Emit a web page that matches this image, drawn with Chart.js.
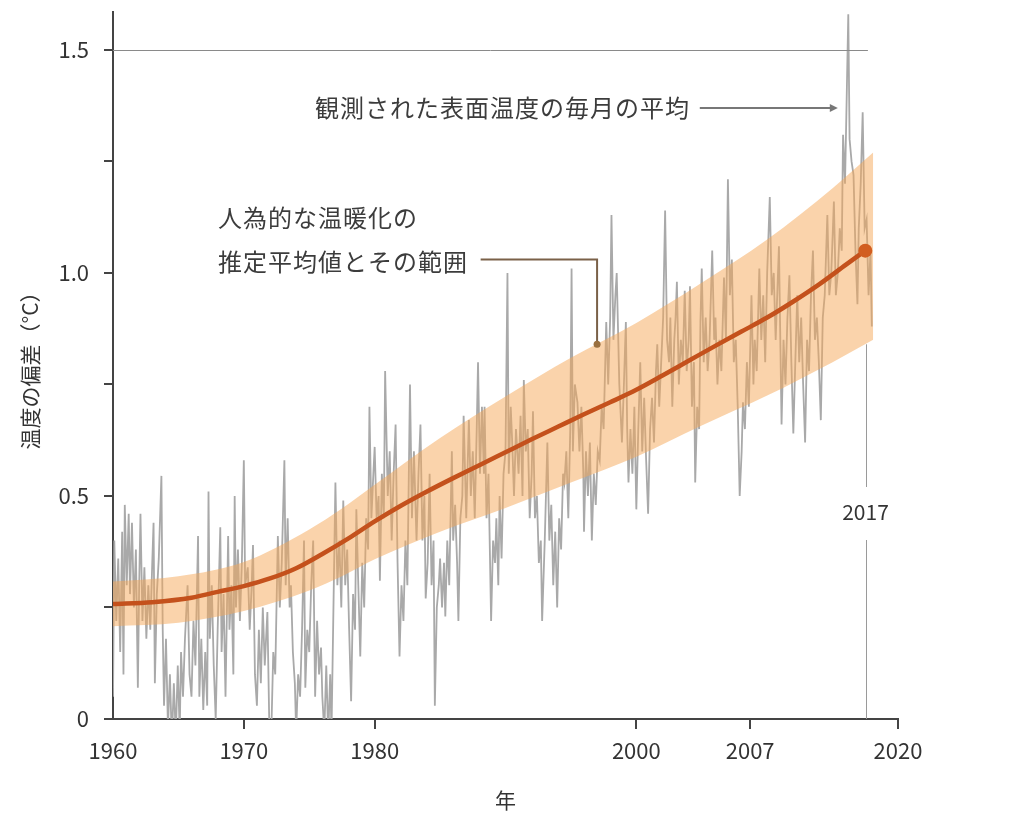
<!DOCTYPE html>
<html><head><meta charset="utf-8">
<script src="https://cdn.jsdelivr.net/npm/chart.js@4.4.1/dist/chart.umd.min.js"></script>
<style>html,body{margin:0;padding:0;background:#fff;}#wrap{width:1011px;height:814px;position:relative;}</style>
</head><body><div id="wrap"><canvas id="c"></canvas></div>
<script>
const xTickValues = [1960, 1970, 1980, 2000, 2008.7, 2020];
const xTickLabels = ['1960', '1970', '1980', '2000', '2007', '2020'];
const yTickValues = [0, 0.25, 0.5, 0.75, 1.0, 1.25, 1.5];
const yTickLabels = ['0', '', '0.5', '', '1.0', '', '1.5'];

const meanYears  = [1960,1963,1966,1968,1970,1972,1974,1976,1978,1980,1982,1984,1986,1988,1990,1992,1994,1996,1998,2000,2002,2004,2006,2008,2010,2012,2014,2016,2017.5];
const meanValues = [0.258,0.262,0.272,0.285,0.298,0.315,0.338,0.37,0.405,0.443,0.478,0.51,0.54,0.569,0.598,0.627,0.655,0.683,0.71,0.738,0.77,0.803,0.836,0.868,0.90,0.936,0.975,1.018,1.05];

const bandYears = [1960,1965,1970,1975,1977.5,1980,1985,1990,1995,2000,2005,2010,2015,2018.1];
const bandUpper = [0.308,0.320,0.352,0.425,0.472,0.525,0.630,0.723,0.81,0.888,0.978,1.075,1.19,1.27];
const bandLower = [0.208,0.216,0.242,0.288,0.320,0.358,0.420,0.473,0.53,0.588,0.658,0.725,0.80,0.85];

// observed monthly surface temperature: [year, anomaly]
const observed = [
[1960.0,0.05],[1960.1,0.40],[1960.25,0.22],[1960.4,0.36],[1960.55,0.15],[1960.7,0.42],[1960.8,0.10],[1960.9,0.48],
[1961.05,0.30],[1961.2,0.46],[1961.3,0.28],[1961.45,0.44],[1961.6,0.25],[1961.75,0.38],[1961.9,0.07],
[1962.0,0.30],[1962.1,0.46],[1962.25,0.22],[1962.4,0.34],[1962.55,0.18],[1962.7,0.30],[1962.85,0.20],
[1963.0,0.35],[1963.1,0.44],[1963.2,0.08],[1963.35,0.28],[1963.5,0.36],[1963.7,0.545],[1963.8,0.20],[1963.9,0.03],
[1964.05,0.18],[1964.2,-0.02],[1964.35,0.10],[1964.5,-0.05],[1964.65,0.08],[1964.8,-0.04],[1964.95,0.12],
[1965.1,-0.03],[1965.2,0.15],[1965.35,0.05],[1965.5,0.18],[1965.7,0.30],[1965.85,0.10],
[1966.0,0.05],[1966.15,0.22],[1966.3,0.12],[1966.5,0.41],[1966.6,0.05],[1966.75,0.18],[1966.9,0.02],
[1967.05,0.15],[1967.2,0.03],[1967.3,0.51],[1967.4,0.18],[1967.55,0.30],[1967.7,0.12],[1967.85,0.0],
[1968.0,0.20],[1968.2,0.43],[1968.3,0.15],[1968.45,0.28],[1968.6,0.05],[1968.8,0.41],[1968.9,0.20],
[1969.05,0.30],[1969.2,0.10],[1969.3,0.50],[1969.4,0.25],[1969.55,0.38],[1969.7,0.22],[1969.85,0.35],
[1970.0,0.58],[1970.1,0.30],[1970.3,0.34],[1970.45,0.20],[1970.6,0.30],[1970.7,0.39],[1970.85,0.10],
[1971.0,0.03],[1971.15,0.20],[1971.3,0.08],[1971.45,0.25],[1971.6,0.12],[1971.8,0.24],[1971.95,-0.02],
[1972.1,-0.03],[1972.25,0.15],[1972.4,0.10],[1972.6,0.41],[1972.75,0.25],[1972.9,0.35],
[1973.1,0.58],[1973.2,0.30],[1973.35,0.45],[1973.5,0.25],[1973.6,0.30],[1973.75,0.15],[1973.9,0.08],
[1974.0,-0.03],[1974.15,0.10],[1974.3,0.05],[1974.45,0.20],[1974.6,0.40],[1974.7,0.07],[1974.85,0.20],
[1975.0,0.15],[1975.15,0.30],[1975.3,0.40],[1975.45,0.05],[1975.6,0.22],[1975.75,0.10],[1975.9,0.16],
[1976.0,0.05],[1976.15,-0.03],[1976.3,0.12],[1976.45,-0.04],[1976.6,0.10],[1976.7,-0.03],[1976.85,0.25],
[1977.0,0.53],[1977.15,0.30],[1977.3,0.40],[1977.45,0.25],[1977.6,0.49],[1977.75,0.30],[1977.9,0.38],
[1978.05,0.20],[1978.2,0.04],[1978.35,0.28],[1978.5,0.20],[1978.6,0.47],[1978.75,0.30],[1978.9,0.14],
[1979.05,0.35],[1979.2,0.25],[1979.35,0.45],[1979.5,0.38],[1979.6,0.70],[1979.75,0.45],[1979.9,0.55],
[1980.0,0.61],[1980.15,0.45],[1980.3,0.50],[1980.4,0.31],[1980.55,0.55],[1980.7,0.45],[1980.8,0.78],
[1981.0,0.50],[1981.15,0.60],[1981.3,0.40],[1981.45,0.55],[1981.6,0.66],[1981.75,0.35],[1981.9,0.14],
[1982.05,0.30],[1982.2,0.22],[1982.35,0.40],[1982.5,0.30],[1982.7,0.75],[1982.85,0.45],
[1983.0,0.60],[1983.2,0.40],[1983.35,0.55],[1983.5,0.66],[1983.65,0.40],[1983.8,0.50],[1983.9,0.27],
[1984.05,0.35],[1984.2,0.55],[1984.35,0.30],[1984.5,0.40],[1984.6,0.03],[1984.75,0.25],[1984.9,0.30],
[1985.0,0.36],[1985.15,0.25],[1985.3,0.35],[1985.4,0.23],[1985.55,0.40],[1985.7,0.30],[1985.9,0.60],
[1986.0,0.40],[1986.15,0.48],[1986.3,0.35],[1986.4,0.22],[1986.55,0.45],[1986.7,0.50],[1986.8,0.68],
[1987.0,0.45],[1987.2,0.67],[1987.35,0.50],[1987.5,0.60],[1987.65,0.45],[1987.8,0.65],[1987.9,0.80],
[1988.05,0.55],[1988.2,0.70],[1988.35,0.55],[1988.4,0.70],[1988.55,0.45],[1988.7,0.55],[1988.9,0.22],
[1989.05,0.40],[1989.2,0.35],[1989.3,0.45],[1989.45,0.30],[1989.55,0.50],[1989.7,0.36],[1989.85,0.55],
[1990.0,0.60],[1990.15,1.00],[1990.25,0.55],[1990.4,0.70],[1990.5,0.63],[1990.65,0.50],[1990.8,0.65],
[1991.0,0.55],[1991.15,0.68],[1991.3,0.50],[1991.4,0.76],[1991.55,0.60],[1991.7,0.65],[1991.85,0.45],
[1992.0,0.55],[1992.1,0.69],[1992.25,0.45],[1992.4,0.50],[1992.55,0.35],[1992.7,0.40],[1992.8,0.22],
[1993.0,0.40],[1993.2,0.62],[1993.35,0.40],[1993.5,0.48],[1993.65,0.30],[1993.8,0.42],[1993.95,0.25],
[1994.1,0.45],[1994.25,0.38],[1994.4,0.55],[1994.5,0.53],[1994.65,0.60],[1994.8,0.45],[1994.95,0.65],
[1995.05,1.01],[1995.15,0.60],[1995.3,0.75],[1995.5,0.71],[1995.65,0.60],[1995.8,0.70],[1995.95,0.55],
[1996.0,0.42],[1996.15,0.60],[1996.3,0.50],[1996.45,0.62],[1996.6,0.40],[1996.75,0.55],[1996.9,0.48],
[1997.05,0.60],[1997.2,0.58],[1997.35,0.70],[1997.5,0.65],[1997.7,0.89],[1997.85,0.75],
[1998.0,0.90],[1998.1,1.13],[1998.25,0.85],[1998.4,0.95],[1998.5,1.00],[1998.7,0.75],[1998.9,0.62],
[1999.05,0.75],[1999.2,0.89],[1999.3,0.65],[1999.4,0.53],[1999.55,0.65],[1999.7,0.55],[1999.85,0.70],
[2000.0,0.47],[2000.15,0.65],[2000.3,0.80],[2000.45,0.60],[2000.6,0.72],[2000.75,0.58],[2000.9,0.46],
[2001.05,0.65],[2001.2,0.72],[2001.35,0.62],[2001.5,0.78],[2001.6,0.84],[2001.75,0.70],[2001.9,0.80],
[2002.05,0.90],[2002.2,1.14],[2002.35,0.85],[2002.5,0.80],[2002.6,0.90],[2002.75,0.70],[2002.9,0.85],
[2003.0,0.90],[2003.1,0.98],[2003.25,0.75],[2003.4,0.85],[2003.55,0.80],[2003.7,0.96],[2003.85,0.78],
[2004.0,0.85],[2004.1,0.97],[2004.25,0.70],[2004.4,0.80],[2004.5,0.53],[2004.65,0.70],[2004.8,0.65],[2004.9,0.89],
[2005.0,1.01],[2005.15,0.80],[2005.3,0.90],[2005.45,0.78],[2005.6,0.85],[2005.8,1.05],[2005.95,0.85],
[2006.05,0.90],[2006.2,0.75],[2006.35,0.85],[2006.5,0.78],[2006.7,0.99],[2006.85,0.85],
[2007.0,1.21],[2007.15,0.95],[2007.3,1.03],[2007.45,0.80],[2007.6,0.85],[2007.75,0.70],[2007.9,0.50],
[2008.05,0.60],[2008.15,0.71],[2008.3,0.65],[2008.45,0.80],[2008.6,0.70],[2008.8,0.95],[2008.95,0.75],
[2009.05,0.85],[2009.2,0.78],[2009.4,1.01],[2009.55,0.85],[2009.7,0.95],[2009.85,0.80],
[2010.0,1.00],[2010.2,1.17],[2010.35,0.95],[2010.5,1.00],[2010.65,0.85],[2010.9,1.06],
[2011.1,0.66],[2011.25,0.85],[2011.4,0.75],[2011.55,0.90],[2011.7,0.995],[2011.85,0.80],
[2012.0,0.64],[2012.15,0.80],[2012.3,0.95],[2012.45,0.80],[2012.6,0.90],[2012.75,0.75],[2012.9,0.62],
[2013.05,0.85],[2013.2,0.78],[2013.35,0.95],[2013.5,1.05],[2013.65,0.85],[2013.8,0.90],[2013.95,0.80],
[2014.1,0.67],[2014.25,0.90],[2014.4,0.95],[2014.6,1.13],[2014.75,0.95],[2014.9,1.00],
[2015.1,1.16],[2015.25,0.95],[2015.4,1.00],[2015.55,1.10],[2015.7,1.05],[2015.8,1.31],[2015.95,1.20],
[2016.05,1.35],[2016.2,1.58],[2016.3,1.30],[2016.45,1.25],[2016.6,1.22],[2016.75,1.05],[2016.9,0.93],
[2017.0,1.10],[2017.15,1.20],[2017.3,1.36],[2017.45,1.10],[2017.6,1.12],[2017.75,0.95],[2017.9,1.05],[2018.0,0.88]
];

const FONT = "'Noto Sans CJK JP', 'Noto Sans', sans-serif";

const annotations = {
  id: 'annotations',
  afterDraw(chart) {
    const {ctx, scales: {x, y}} = chart;
    const px = v => x.getPixelForValue(v);
    const py = v => y.getPixelForValue(v);
    ctx.save();
    // 1.5 reference line
    ctx.strokeStyle = '#8a8a8a'; ctx.lineWidth = 1;
    const gy = Math.round(py(1.5)) + 0.5;
    ctx.beginPath(); ctx.moveTo(x.left, gy); ctx.lineTo(px(2017.7), gy); ctx.stroke();
    // 2017 vertical line
    const vx = Math.round(px(2017.55)) + 0.5;
    ctx.strokeStyle = '#9a9a9a'; ctx.lineWidth = 1;
    ctx.beginPath(); ctx.moveTo(vx, py(0.84)); ctx.lineTo(vx, 487); ctx.moveTo(vx, 540); ctx.lineTo(vx, y.bottom); ctx.stroke();
    ctx.fillStyle = '#333'; ctx.font = '21px ' + FONT; ctx.textAlign = 'center'; ctx.textBaseline = 'middle';
    ctx.fillText('2017', vx - 1, 512);
    // observed annotation
    ctx.font = '24px ' + FONT; ctx.fillStyle = '#3c3c3c';
    try { ctx.letterSpacing = '1px'; } catch (e) {}
    ctx.textAlign = 'right';
    const ay = py(1.37);
    ctx.fillText('観測された表面温度の毎月の平均', px(2004.1), ay);
    ctx.strokeStyle = '#777'; ctx.lineWidth = 2;
    const tip = px(2015.4);
    ctx.beginPath(); ctx.moveTo(px(2004.85), ay); ctx.lineTo(tip - 6, ay); ctx.stroke();
    ctx.fillStyle = '#777';
    ctx.beginPath(); ctx.moveTo(tip, ay); ctx.lineTo(tip - 8, ay - 4); ctx.lineTo(tip - 8, ay + 4); ctx.closePath(); ctx.fill();
    // estimated warming annotation
    ctx.fillStyle = '#3c3c3c'; ctx.textAlign = 'left';
    ctx.fillText('人為的な温暖化の', px(1968.03), py(1.123));
    ctx.fillText('推定平均値とその範囲', px(1968.03), py(1.025));
    ctx.strokeStyle = '#7a6148'; ctx.lineWidth = 2;
    const ly = py(1.03), cx = px(1997.0);
    ctx.beginPath(); ctx.moveTo(px(1988.1), ly); ctx.lineTo(cx, ly); ctx.lineTo(cx, py(0.84)); ctx.stroke();
    ctx.fillStyle = '#9a7040';
    ctx.beginPath(); ctx.arc(cx, py(0.84), 3.5, 0, Math.PI * 2); ctx.fill();
    ctx.restore();
  }
};

const axisColor = '#444';
new Chart(document.getElementById('c'), {
  type: 'line',
  data: {
    datasets: [
      {
        label: 'mean', order: 0,
        data: meanYears.map((t, i) => ({x: t, y: meanValues[i]})),
        borderColor: '#c4511c', borderWidth: 4.5, cubicInterpolationMode: 'monotone',
        pointRadius: c => c.dataIndex === meanYears.length - 1 ? 7 : 0,
        pointBackgroundColor: '#d25e20', pointBorderWidth: 0, fill: false
      },
      {
        label: 'upper', order: 1,
        data: bandYears.map((t, i) => ({x: t, y: bandUpper[i]})),
        borderWidth: 0, borderColor: 'rgba(0,0,0,0)', pointRadius: 0, cubicInterpolationMode: 'monotone',
        fill: '+1', backgroundColor: 'rgba(246,168,88,0.5)'
      },
      {
        label: 'lower', order: 1,
        data: bandYears.map((t, i) => ({x: t, y: bandLower[i]})),
        borderWidth: 0, borderColor: 'rgba(0,0,0,0)', pointRadius: 0, cubicInterpolationMode: 'monotone',
        fill: false
      },
      {
        label: 'observed', order: 2,
        data: observed.map(p => ({x: p[0], y: p[1]})),
        borderColor: '#a9a9a9', borderWidth: 1.8, pointRadius: 0, tension: 0, fill: false
      }
    ]
  },
  options: {
    responsive: true, maintainAspectRatio: false, animation: false,
    layout: {padding: {top: 12, right: 113, bottom: 0, left: 0}},
    plugins: {legend: {display: false}, tooltip: {enabled: false}},
    scales: {
      x: {
        type: 'linear', min: 1960, max: 2020,
        afterFit: s => { s.height = 95; s.paddingLeft = 0; s.paddingRight = 0; },
        afterBuildTicks: s => { s.ticks = xTickValues.map(v => ({value: v})); },
        ticks: {
          autoSkip: false, maxRotation: 0, padding: 8, color: '#333',
          font: {family: FONT, size: 22},
          callback: (v, i) => xTickLabels[i]
        },
        grid: {
          drawOnChartArea: false, drawTicks: true, tickLength: 10, lineWidth: 2,
          tickColor: c => c.index === 0 ? 'rgba(0,0,0,0)' : axisColor, color: axisColor
        },
        border: {display: true, color: axisColor, width: 2},
        title: {display: true, text: '年', color: '#333', font: {family: FONT, size: 21}, padding: {top: 0, bottom: 1}}
      },
      y: {
        min: 0, max: 1.585,
        afterFit: s => { s.width = 113; s.paddingTop = 0; s.paddingBottom = 0; },
        afterBuildTicks: s => { s.ticks = yTickValues.map(v => ({value: v})); },
        ticks: {
          autoSkip: false, padding: 15, color: '#333',
          font: {family: FONT, size: 22},
          callback: (v, i) => yTickLabels[i]
        },
        grid: {drawOnChartArea: false, drawTicks: true, tickLength: 9, lineWidth: 2, color: axisColor},
        border: {display: true, color: axisColor, width: 2},
        title: {display: true, text: '温度の偏差（°C）', color: '#333', font: {family: FONT, size: 21}, padding: {top: 17, bottom: 0}}
      }
    }
  },
  plugins: [annotations]
});
</script>
</body></html>
